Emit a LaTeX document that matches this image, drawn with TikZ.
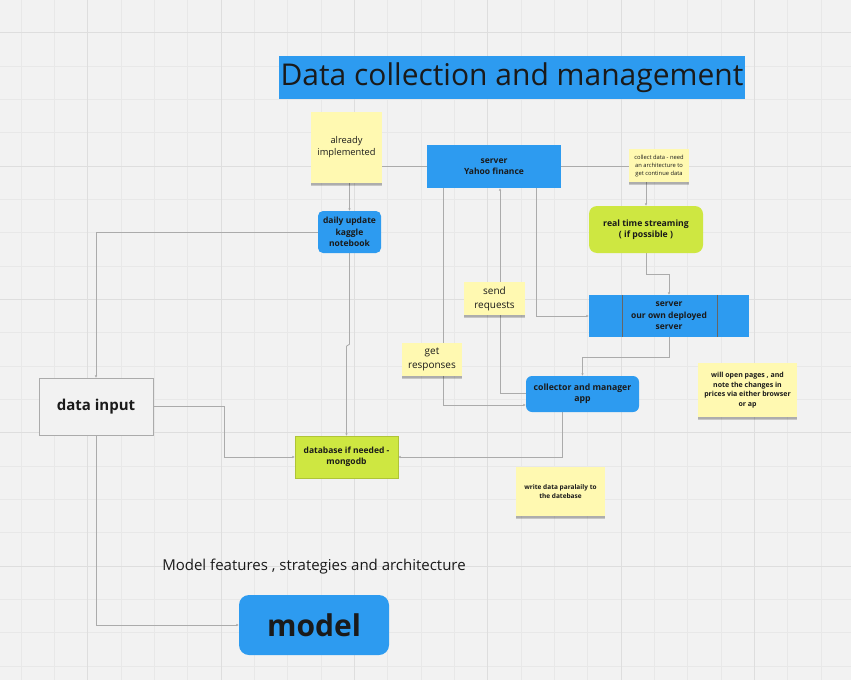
\documentclass[tikz,border=0pt]{standalone}
\usepackage{fontspec}
\setmainfont{Open Sans}
\usetikzlibrary{positioning,arrows.meta,shadows,calc}
\definecolor{mirobg}{HTML}{F2F2F2}
\definecolor{gridminor}{HTML}{E8E8E8}
\definecolor{gridmajor}{HTML}{DEDEDE}
\definecolor{miroblue}{HTML}{2D9BF0}
\definecolor{mirogreen}{HTML}{CEE741}
\definecolor{stickyyellow}{HTML}{FFF9B1}
\definecolor{wirecol}{HTML}{ABABAB}
\definecolor{ink}{HTML}{1A1A1A}
\pgfdeclarelayer{grid}
\pgfdeclarelayer{wires}
\pgfsetlayers{grid,wires,main}

\begin{document}
\begin{tikzpicture}[x=1pt,y=-1pt,
box/.style={
  fill=miroblue,
  text=ink,
  align=center,
  inner sep=1pt
  },
rbox/.style={
  box,
  rounded corners=#1
  },
lime/.style={
  box,
  fill=mirogreen
  },
sticky/.style={
  fill=stickyyellow,
  text=ink,
  align=center,
  inner sep=1pt,
  drop shadow={shadow xshift=0pt,shadow yshift=-3pt,opacity=0.18,fill=black},
  drop shadow={shadow xshift=0pt,shadow yshift=-1.5pt,opacity=0.12,fill=black}
  },
wire/.style={
  draw=wirecol,
  line width=0.9pt
  },
>={Latex[length=2.5pt,width=2.5pt]}
]
\useasboundingbox (0,0) rectangle (851,680);
\begin{pgfonlayer}{grid}
\fill[mirobg] (0,0) rectangle (851,680);
\foreach \i in {0,...,24} \draw[gridminor] (21+33.333*\i,0) -- ++(0,680);
\foreach \j in {0,...,19} \draw[gridminor] (0,32.5+33.333*\j) -- ++(851,0);
\foreach \i in {0,...,5} \draw[gridmajor] (87.67+133.33*\i,0) -- ++(0,680);
\foreach \j in {0,...,4} \draw[gridmajor] (0,32.5+133.33*\j) -- ++(851,0);
\end{pgfonlayer}

\node[box,minimum width=466pt,minimum height=43pt,font=\fontsize{30}{36}\selectfont] (title) at (512,77.5) {Data collection and management};

\node[sticky,minimum width=71pt,minimum height=71pt,font=\fontsize{9.3}{12}\selectfont] (done) at (346.5,147.5) {already\\implemented};
\node[box,minimum width=134pt,minimum height=43pt,font=\fontsize{8.5}{10.7}\selectfont\bfseries] (yahoo) at (494,166.5) {server\\Yahoo finance};
\node[sticky,minimum width=60pt,minimum height=33pt,font=\fontsize{5.8}{8}\selectfont] (collect) at (659,165.5) {collect data - need\\an architecture to\\get continue data};
\node[rbox=5pt,minimum width=63pt,minimum height=42pt,font=\fontsize{8.5}{11.3}\selectfont\bfseries] (kaggle) at (349.5,232) {daily update\\kaggle\\notebook};
\node[lime,rounded corners=8pt,minimum width=114pt,minimum height=47pt,font=\fontsize{8.7}{11.3}\selectfont\bfseries] (stream) at (646,229.5) {real time streaming\\( if possible )};
\node[box,minimum width=160pt,minimum height=42pt,font=\fontsize{8.5}{11.5}\selectfont\bfseries] (own) at (669,316) {server\\our own deployed\\server};
\node[sticky,minimum width=61pt,minimum height=33pt,font=\fontsize{10}{14}\selectfont] (send) at (494.5,298.5) {send\\requests};
\node[sticky,minimum width=60pt,minimum height=33pt,font=\fontsize{10}{13.7}\selectfont] (resp) at (432,359.5) {get\\responses};
\node[rbox=6pt,minimum width=113pt,minimum height=36pt,font=\fontsize{8.7}{11.3}\selectfont\bfseries] (app) at (582.5,394) {collector and manager\\app};
\node[sticky,minimum width=99pt,minimum height=54pt,font=\fontsize{7}{9.5}\selectfont\bfseries] (pages) at (747.5,390) {will open pages , and\\note the changes in\\prices via either browser\\or ap};
\node[sticky,minimum width=89pt,minimum height=49pt,font=\fontsize{6.5}{8.5}\selectfont\bfseries] (write) at (560.5,491.5) {write data paralaily to\\the datebase};
\node[draw=wirecol,fill=mirobg,align=center,text=ink,minimum width=114pt,minimum height=57pt,font=\fontsize{15}{18}\selectfont\bfseries] (input) at (96,406.5) {data input};
\node[lime,draw=mirogreen!85!black,minimum width=103pt,minimum height=42pt,font=\fontsize{8.5}{11.3}\selectfont\bfseries] (db) at (346.5,457) {database if needed -\\mongodb};
\node[text=ink,font=\fontsize{15}{18}\selectfont] (feat) at (314,567) {Model features , strategies and architecture};
\node[rbox=10pt,minimum width=150pt,minimum height=60pt,font=\fontsize{30}{36}\selectfont\bfseries] (model) at (314,625) {model};

\draw[black!60,line width=0.6pt] ([xshift=-47pt]own.north) -- ([xshift=-47pt]own.south);
\draw[black!60,line width=0.6pt] ([xshift=48pt]own.north) -- ([xshift=48pt]own.south);

\begin{pgfonlayer}{wires}
\draw[wire] (done.east |- yahoo.west) -- (yahoo.west);
\draw[wire] (yahoo.east) -- (yahoo.east -| collect.west);
\draw[wire,->] (collect.south -| stream.north) -- (stream.north);
\draw[wire,->] (done.south -| kaggle.north) -- (kaggle.north);
\draw[wire,->] (kaggle.west) -| (input.north);
\draw[wire,->] (kaggle.south) -- ++(0,91) -- ++(-3,2) -- (db.north);
\draw[wire,->] (input.east) -- ++(71,0) |- (db.west);
\draw[wire,->] ([xshift=-20.5pt]app.south) |- (db.east);
\draw[wire,->] (input.south) |- (model.west);
\draw[wire,->] (stream.south) -- ++(0,21) -| (own.north);
\draw[wire,->] (own.south) -- ++(0,20) -| (app.north);
\draw[wire,->] ([xshift=42pt]yahoo.south) |- (own.west);
\draw[wire,->] ([yshift=1pt]app.west) -| ([xshift=6pt]yahoo.south);
\draw[wire,->] ([xshift=-51pt]yahoo.south) |- ([yshift=-11pt]app.west);
\end{pgfonlayer}
\end{tikzpicture}
\end{document}
